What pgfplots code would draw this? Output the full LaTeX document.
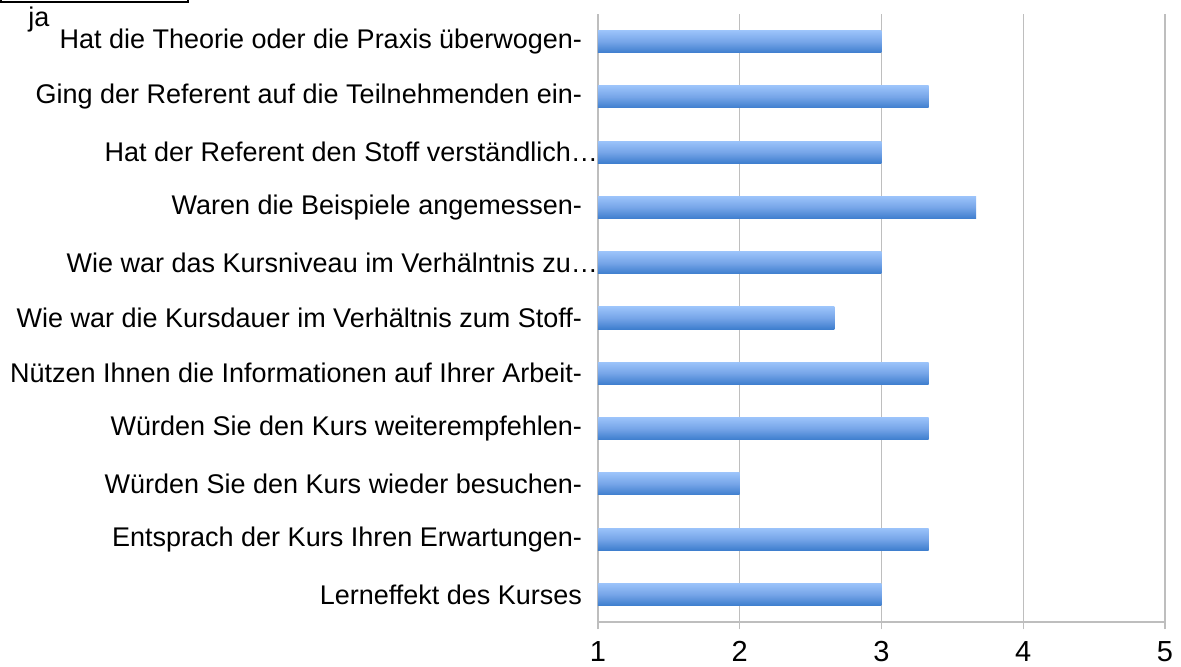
\documentclass[border=0pt]{standalone}
\usepackage{pgfplots}
\pgfplotsset{compat=1.18}
\usepackage{fontspec}
\setmainfont{Liberation Sans}
\definecolor{gridgray}{RGB}{190,190,190}
\definecolor{bartop}{RGB}{155,195,250}
\definecolor{barmid}{RGB}{118,165,232}
\definecolor{barbot}{RGB}{62,126,206}
\pgfplotsset{gbar/.style={xbar, bar shift=0pt, draw=none, top color=bartop, bottom color=barbot, middle color=barmid}}
\begin{document}
\begin{tikzpicture}
\useasboundingbox (-299pt,-22pt) rectangle (291.5pt,311pt);
\fill[white] (-299pt,-22pt) rectangle (291.5pt,311pt);
\draw[line width=1pt] (-298.5pt,325pt) rectangle (-205pt,310pt);
\node[font=\fontsize{13.5}{15}\selectfont] at (-279.5pt,301pt) {ja};
\begin{axis}[
  at={(0,0)}, anchor=south west,
  width=283.5pt, height=304pt, scale only axis,
  xmin=1, xmax=5, ymin=-0.5, ymax=10.5,
  axis lines*=left,
  axis line style={gridgray, line width=0.6pt},
  xtick={1,2,3,4,5},
  xtick align=outside,
  major tick length=3.5pt,
  xmajorgrids,
  grid style={gridgray, line width=0.6pt},
  tick style={gridgray, line width=0.6pt},
  ytick={0,...,10},
  yticklabels={
    Lerneffekt des Kurses,
    Entsprach der Kurs Ihren Erwartungen-,
    Würden Sie den Kurs wieder besuchen-,
    Würden Sie den Kurs weiterempfehlen-,
    Nützen Ihnen die Informationen auf Ihrer Arbeit-,
    Wie war die Kursdauer im Verhältnis zum Stoff-,
    Wie war das Kursniveau im Verhälntnis zu…\kern-8pt,
    Waren die Beispiele angemessen-,
    Hat der Referent den Stoff verständlich…\kern-8pt,
    Ging der Referent auf die Teilnehmenden ein-,
    Hat die Theorie oder die Praxis überwogen-},
  y tick style={draw=none},
  minor ytick={-0.5,0.5,...,10.5},
  minor y tick style={gridgray, line width=0.6pt},
  minor tick length=4pt,
  ytick align=outside,
  yticklabel style={font=\fontsize{13.5}{15}\selectfont, anchor=east, xshift=-1pt},
  xticklabel style={font=\fontsize{14.5}{16}\selectfont, inner sep=1pt, yshift=-5pt},
  /pgf/number format/assume math mode=true,
  bar width=0.4,
  clip=true,
]
\addplot[gbar] coordinates {(3,0)};
\addplot[gbar] coordinates {(3.333,1)};
\addplot[gbar] coordinates {(2,2)};
\addplot[gbar] coordinates {(3.333,3)};
\addplot[gbar] coordinates {(3.333,4)};
\addplot[gbar] coordinates {(2.667,5)};
\addplot[gbar] coordinates {(3,6)};
\addplot[gbar] coordinates {(3.667,7)};
\addplot[gbar] coordinates {(3,8)};
\addplot[gbar] coordinates {(3.333,9)};
\addplot[gbar] coordinates {(3,10)};
\end{axis}
\end{tikzpicture}
\end{document}
